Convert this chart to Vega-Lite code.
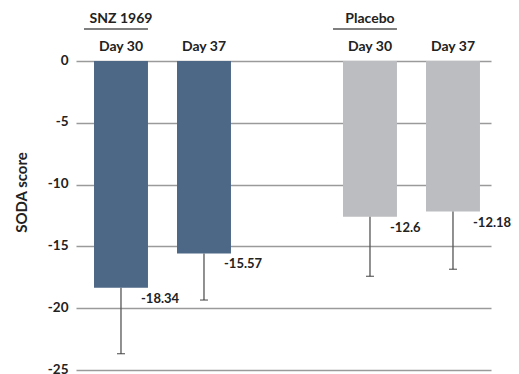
{
  "$schema": "https://vega.github.io/schema/vega-lite/v6.json",
  "autosize": {"type": "none"},
  "padding": {"left": 76, "top": 61, "right": 28, "bottom": 4},
  "width": 415,
  "height": 309,
  "background": "white",
  "config": {
    "view": {"stroke": null},
    "font": "Lato",
    "axis": {"labelFont": "Lato", "titleFont": "Lato"},
    "locale": {
      "number": {"decimal": ".", "thousands": ",", "grouping": [3], "currency": ["$", ""], "minus": "-"}
    }
  },
  "data": {
    "values": [
      {"cat": "SNZ 1969|Day 30", "group": "SNZ 1969", "day": "Day 30", "mean": -18.34, "lower": -23.68},
      {"cat": "SNZ 1969|Day 37", "group": "SNZ 1969", "day": "Day 37", "mean": -15.57, "lower": -19.34},
      {"cat": "Placebo|Day 30", "group": "Placebo", "day": "Day 30", "mean": -12.6, "lower": -17.42},
      {"cat": "Placebo|Day 37", "group": "Placebo", "day": "Day 37", "mean": -12.18, "lower": -16.85}
    ]
  },
  "encoding": {
    "x": {
      "field": "cat",
      "type": "nominal",
      "sort": null,
      "scale": {
        "domain": ["SNZ 1969|Day 30", "SNZ 1969|Day 37", "gap", "Placebo|Day 30", "Placebo|Day 37"],
        "paddingInner": 0.35,
        "paddingOuter": 0.175,
        "align": 0.62
      },
      "axis": {
        "orient": "top",
        "title": null,
        "domain": false,
        "ticks": false,
        "tickSize": 0,
        "labelPadding": 8,
        "labelAngle": 0,
        "labelFontSize": 14,
        "labelFontWeight": 700,
        "labelColor": "#222222",
        "labelExpr": "indexof(datum.value, '|') >= 0 ? split(datum.value, '|')[1] : ''"
      }
    }
  },
  "layer": [
    {
      "mark": {"type": "bar"},
      "encoding": {
        "y": {
          "field": "mean",
          "type": "quantitative",
          "scale": {"domain": [-25, 0], "nice": false},
          "axis": {
            "title": "SODA score",
            "values": [0, -5, -10, -15, -20, -25],
            "domain": false,
            "ticks": false,
            "tickSize": 0,
            "labelPadding": 8,
            "labelFontSize": 13.5,
            "labelFontWeight": 700,
            "labelColor": "#222222",
            "labelOffset": -1,
            "grid": true,
            "gridColor": "#9a9a9a",
            "gridWidth": 1.4,
            "titleFontSize": 15,
            "titleFontWeight": 700,
            "titleColor": "#222222",
            "titleAngle": -90,
            "titleBaseline": "middle",
            "titleAlign": "center",
            "titleX": -55,
            "titleY": 131
          }
        },
        "color": {
          "field": "group",
          "type": "nominal",
          "scale": {"domain": ["SNZ 1969", "Placebo"], "range": ["#4d6786", "#bcbdc0"]},
          "legend": null
        }
      }
    },
    {
      "mark": {"type": "rule", "color": "#555555", "strokeWidth": 1.3},
      "encoding": {
        "y": {"field": "mean", "type": "quantitative"},
        "y2": {"field": "lower"}
      }
    },
    {
      "mark": {"type": "tick", "color": "#333333", "thickness": 1.3, "size": 8, "orient": "horizontal"},
      "encoding": {
        "y": {"field": "lower", "type": "quantitative"}
      }
    },
    {
      "mark": {"type": "text", "align": "left", "baseline": "middle", "dx": 20, "dy": 11, "fontSize": 13, "fontWeight": 700, "color": "#222222"},
      "encoding": {
        "y": {"field": "mean", "type": "quantitative"},
        "text": {"field": "mean", "type": "quantitative", "format": "~g"}
      }
    },
    {
      "transform": [{"filter": "datum.day === 'Day 30'"}],
      "mark": {"type": "text", "align": "center", "baseline": "middle", "dy": -42, "fontSize": 14, "fontWeight": 700, "color": "#222222", "clip": false},
      "encoding": {
        "y": {"datum": 0, "type": "quantitative"},
        "text": {"field": "group", "type": "nominal"}
      }
    },
    {
      "transform": [{"filter": "datum.day === 'Day 30'"}],
      "mark": {"type": "rule", "color": "#555555", "strokeWidth": 1.3, "yOffset": -32, "xOffset": -10, "x2Offset": 0},
      "encoding": {
        "x": {"field": "cat", "type": "nominal", "bandPosition": 0},
        "x2": {"field": "cat", "bandPosition": 1},
        "y": {"datum": 0, "type": "quantitative"}
      }
    }
  ]
}
